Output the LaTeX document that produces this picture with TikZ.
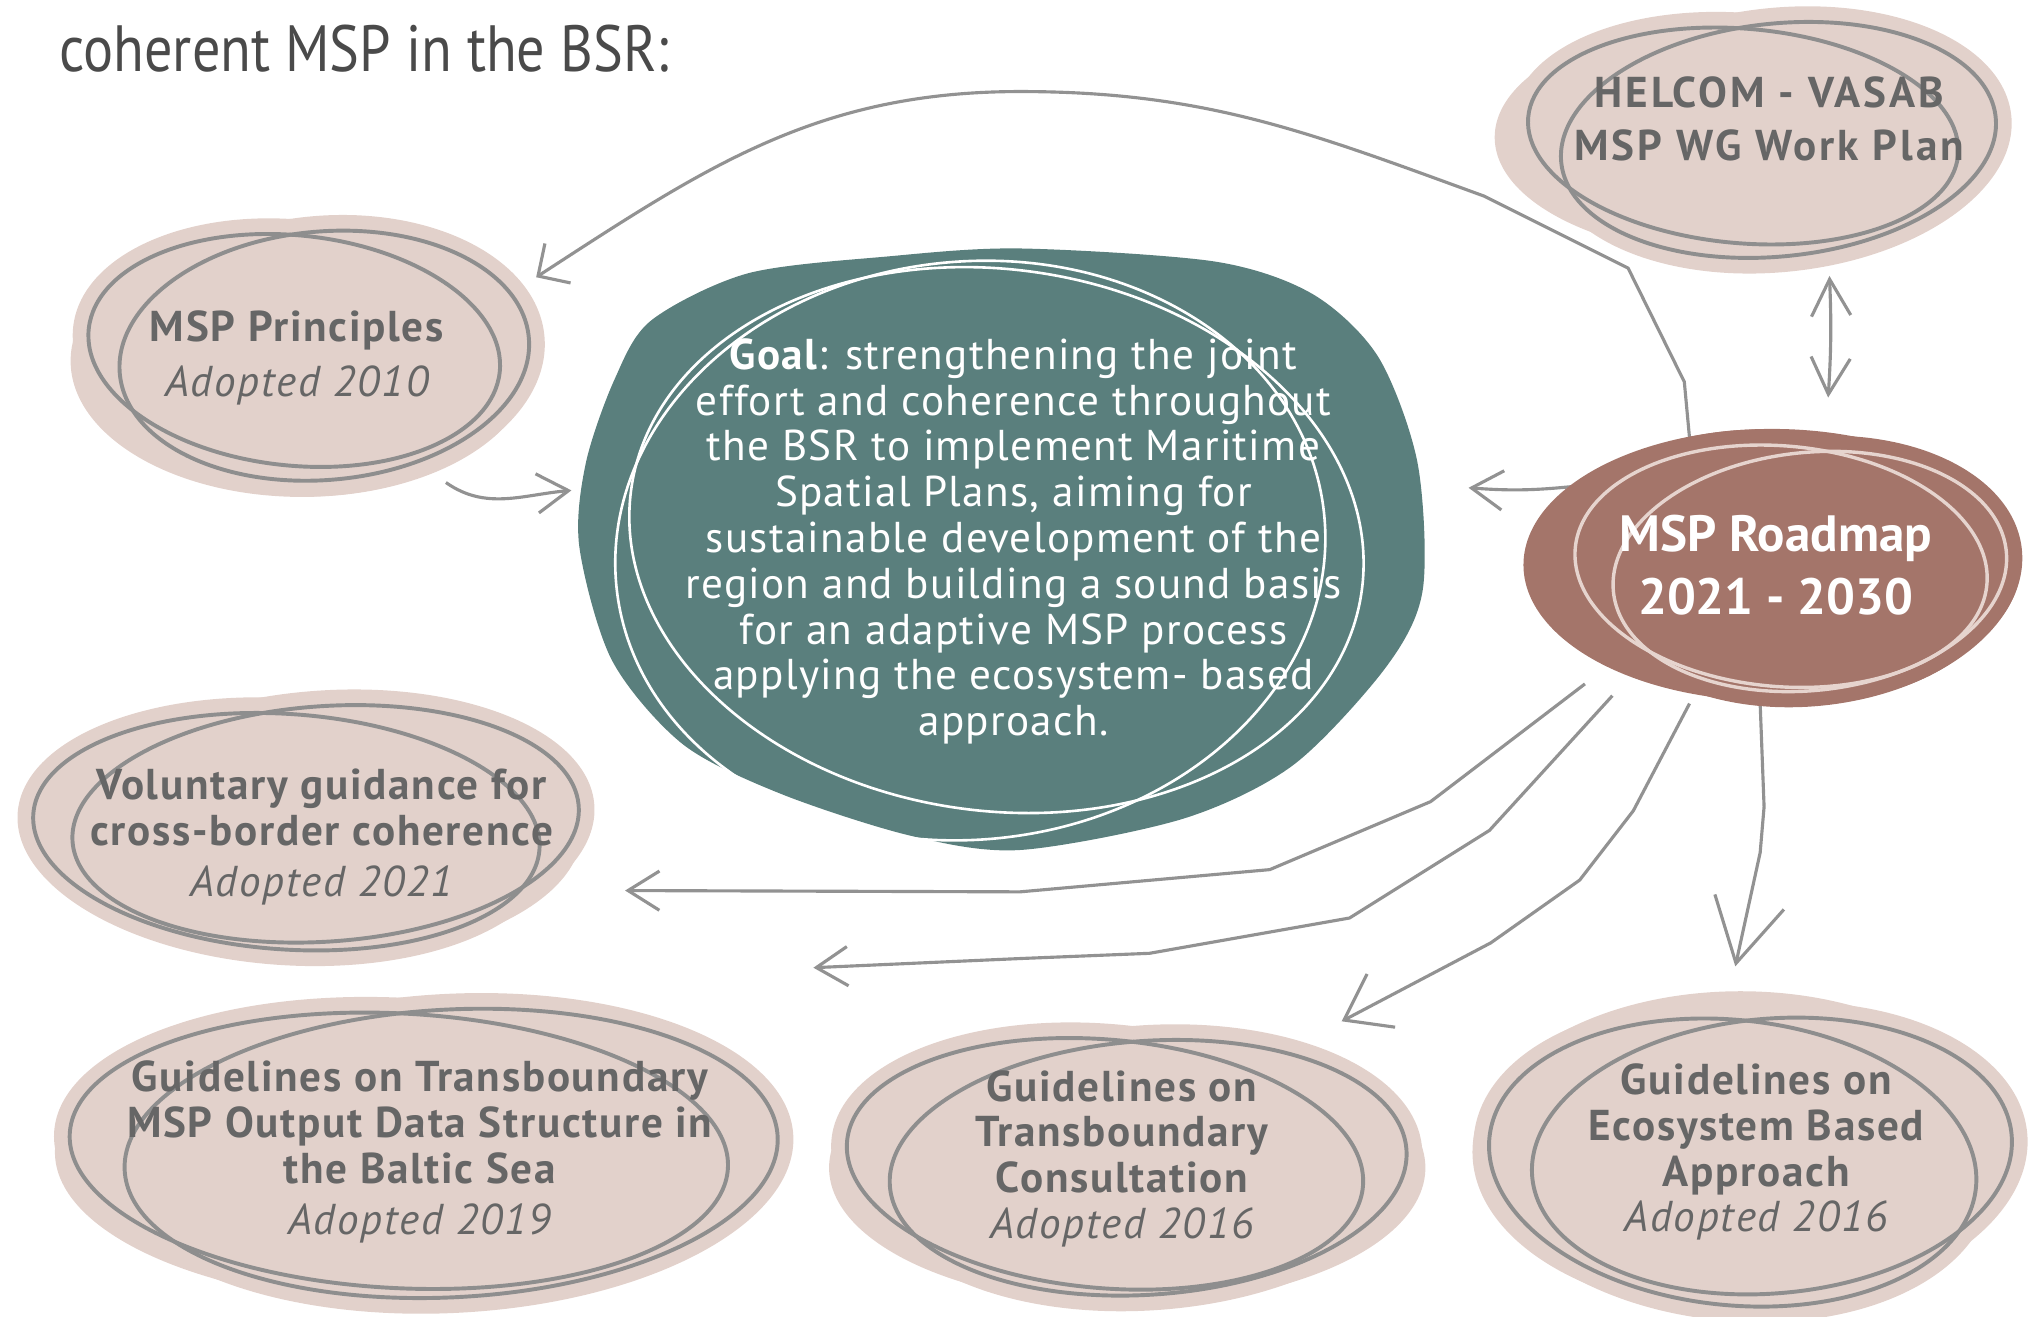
\documentclass[tikz,border=0pt]{standalone}
\usepackage{fontspec}
\setmainfont{PT Sans}
\newfontfamily\titlefont[FakeStretch=0.86]{PT Sans}
\newfontfamily\blobfont[LetterSpace=4]{PT Sans}
\newfontfamily\widefont[LetterSpace=7]{PT Sans}
\newfontfamily\goalfont[LetterSpace=3]{PT Sans}
\usetikzlibrary{arrows.meta}
\definecolor{blobpink}{HTML}{E2D1CB}
\definecolor{rimgray}{HTML}{8E8E8E}
\definecolor{flowgray}{HTML}{929292}
\definecolor{goalteal}{HTML}{5A7F7D}
\definecolor{roadbrown}{HTML}{A4756A}
\definecolor{roadrim}{HTML}{E6D4CE}
\definecolor{txtgray}{HTML}{666666}
\definecolor{titlegray}{HTML}{4A4A4A}
\newcommand\adopted[1]{{\mdseries\itshape Adopted #1}}
\begin{document}
\begin{tikzpicture}[x=0.5pt,y=-0.5pt,
  blobtext/.style={align=center,text=txtgray,inner sep=0pt,
    font=\blobfont\fontsize{16.5}{17.5}\selectfont\bfseries},
  rim/.style={draw=rimgray,line width=1.5pt},
  flow/.style={draw=flowgray,line width=1.2pt,line join=round,
    -{Straight Barb[length=12pt,width=15pt]}},
]
\useasboundingbox (0,0) rectangle (1560,1007);

\node[anchor=base west,inner sep=0pt,text=titlegray,
  font=\titlefont\fontsize{25}{28}\selectfont] (title) at (45,55) {coherent MSP in the BSR:};

% ends of the connectors
\coordinate (r1) at (1292,335);
\coordinate (r2) at (1203,372);
\coordinate (r3) at (1398,304);
\coordinate (r4) at (1212,523);
\coordinate (r5) at (1233,532);
\coordinate (r6) at (1292,538);
\coordinate (r7) at (1346,538);
\coordinate (p1) at (410,212);
\coordinate (p2) at (341,369);
\coordinate (g1) at (437,375);
\coordinate (g2) at (1123,373);
\coordinate (h1) at (1399,211);
\coordinate (v1) at (478,681);
\coordinate (o1) at (622,740);
\coordinate (c1) at (1026,781);
\coordinate (e1) at (1327,739);

% connectors
\draw[flow,-{Straight Barb[length=9pt,width=18pt]}] (r1) -- (1288,292) -- (1245,205) -- (1135,150)
  to[out=160,in=0] (780,70) to[out=180,in=33] (p1);
\draw[flow] (p2) to[out=-35,in=185] (g1);
\draw[flow] (r2) to[bend left=5] (g2);
\draw[flow,{Straight Barb[length=14pt,width=15pt]}-{Straight Barb[length=14pt,width=15pt]}] (h1) to[bend left=3] (r3);
\draw[flow] (r4) -- (1094,613) -- (971,665) -- (780,682) -- (v1);
\draw[flow] (r5) -- (1139,635) -- (1032,702) -- (879,729) -- (780,733) -- (o1);
\draw[flow,-{Straight Barb[length=16pt,width=23pt]}] (r6) -- (1249,620) -- (1208,673) -- (1140,721) -- (c1);
\draw[flow,-{Straight Barb[length=24pt,width=27pt]}] (r7) -- (1349,617) -- (1346,652) -- (e1);

% pink blobs: fills first, rims on top
\foreach \cx/\cy/\rx/\ry in {231/276/177/104, 1335/105/192/92, 235/635/210/100,
    320/881/278/117, 862/893/228/105, 1331/881/205/123}
  \fill[blobpink] (\cx,\cy) ellipse [x radius=\rx*0.5pt, y radius=\ry*0.5pt];
\foreach \cx/\cy/\rx/\ry/\rot in {225/268/158/88/-6, 248/272/157/95/5,
    1333/104/165/82/-5, 1360/107/167/89/6,
    219/636/194/90/-4, 249/630/194/90/4,
    305/880/252/105/-3, 345/882/250/110/3,
    845/890/198/95/-5, 878/893/198/97/4,
    1325/889/187/109/-6, 1355/884/184/105/5}
  \fill[blobpink] (\cx,\cy) ellipse [x radius=\rx*0.5pt+6pt, y radius=\ry*0.5pt+6pt, rotate=\rot];
\foreach \cx/\cy/\rx/\ry/\rot in {225/268/158/88/-6, 248/272/157/95/5,
    1333/104/165/82/-5, 1360/107/167/89/6,
    219/636/194/90/-4, 249/630/194/90/4,
    305/880/252/105/-3, 345/882/250/110/3,
    845/890/198/95/-5, 878/893/198/97/4,
    1325/889/187/109/-6, 1355/884/184/105/5}
  \draw[rim] (\cx,\cy) ellipse [x radius=\rx*0.5pt, y radius=\ry*0.5pt, rotate=\rot];

% goal blob
\fill[goalteal] plot[smooth cycle] coordinates {(443,418) (448,354) (470,290) (498,245) (572,209)
  (680,196) (780,190) (929,200) (1004,225) (1054,273) (1084,354) (1088,451) (1060,510)
  (989,585) (905,626) (780,650) (696,639) (597,607) (522,569) (468,505)};
\foreach \cx/\cy/\rx/\ry/\rot in {742/421/272/221/6, 762/413/282/207/-8}
  \draw[white,line width=1pt] (\cx,\cy) ellipse [x radius=\rx*0.5pt, y radius=\ry*0.5pt, rotate=\rot];

% roadmap blob
\fill[roadbrown] (1355,432) ellipse [x radius=95pt, y radius=52pt];
\foreach \cx/\cy/\rx/\ry/\rot in {1362/433/158/92/-5, 1384/437/151/91/6}
  \fill[roadbrown] (\cx,\cy) ellipse [x radius=\rx*0.5pt+6pt, y radius=\ry*0.5pt+6pt, rotate=\rot];
\foreach \cx/\cy/\rx/\ry/\rot in {1362/433/158/92/-5, 1384/437/151/91/6}
  \draw[roadrim,line width=1.3pt] (\cx,\cy) ellipse [x radius=\rx*0.5pt, y radius=\ry*0.5pt, rotate=\rot];

% texts
\node[blobtext] (princ) at (227,274) {MSP Principles\\[3.5pt]\adopted{2010}};
\node[blobtext,font=\widefont\fontsize{16.5}{17.5}\selectfont\bfseries] (helcom) at (1353,91)
  {HELCOM - VASAB\\[3pt]MSP WG Work Plan};
\node[blobtext,text=white,font=\goalfont\fontsize{16.5}{17.5}\selectfont] (goal) at (775,414)
  {\textbf{Goal}: strengthening the joint\\effort and coherence throughout\\the BSR to implement Maritime\\Spatial Plans, aiming for\\sustainable development of the\\region and building a sound basis\\for an adaptive MSP process\\applying the ecosystem- based\\approach.};
\node[blobtext,text=white,font=\fontsize{19.5}{24}\selectfont\bfseries] (road) at (1358,432) {MSP Roadmap\\2021 - 2030};
\node[blobtext] (volun) at (246,640) {Voluntary guidance for\\cross-border coherence\\[2pt]\adopted{2021}};
\node[blobtext] (output) at (321,881) {Guidelines on Transboundary\\MSP Output Data Structure in\\the Baltic Sea\\[2pt]\adopted{2019}};
\node[blobtext] (consult) at (858,886) {Guidelines on\\Transboundary\\Consultation\\\adopted{2016}};
\node[blobtext] (eco) at (1343,881) {Guidelines on\\Ecosystem Based\\Approach\\\adopted{2016}};
\end{tikzpicture}
\end{document}
